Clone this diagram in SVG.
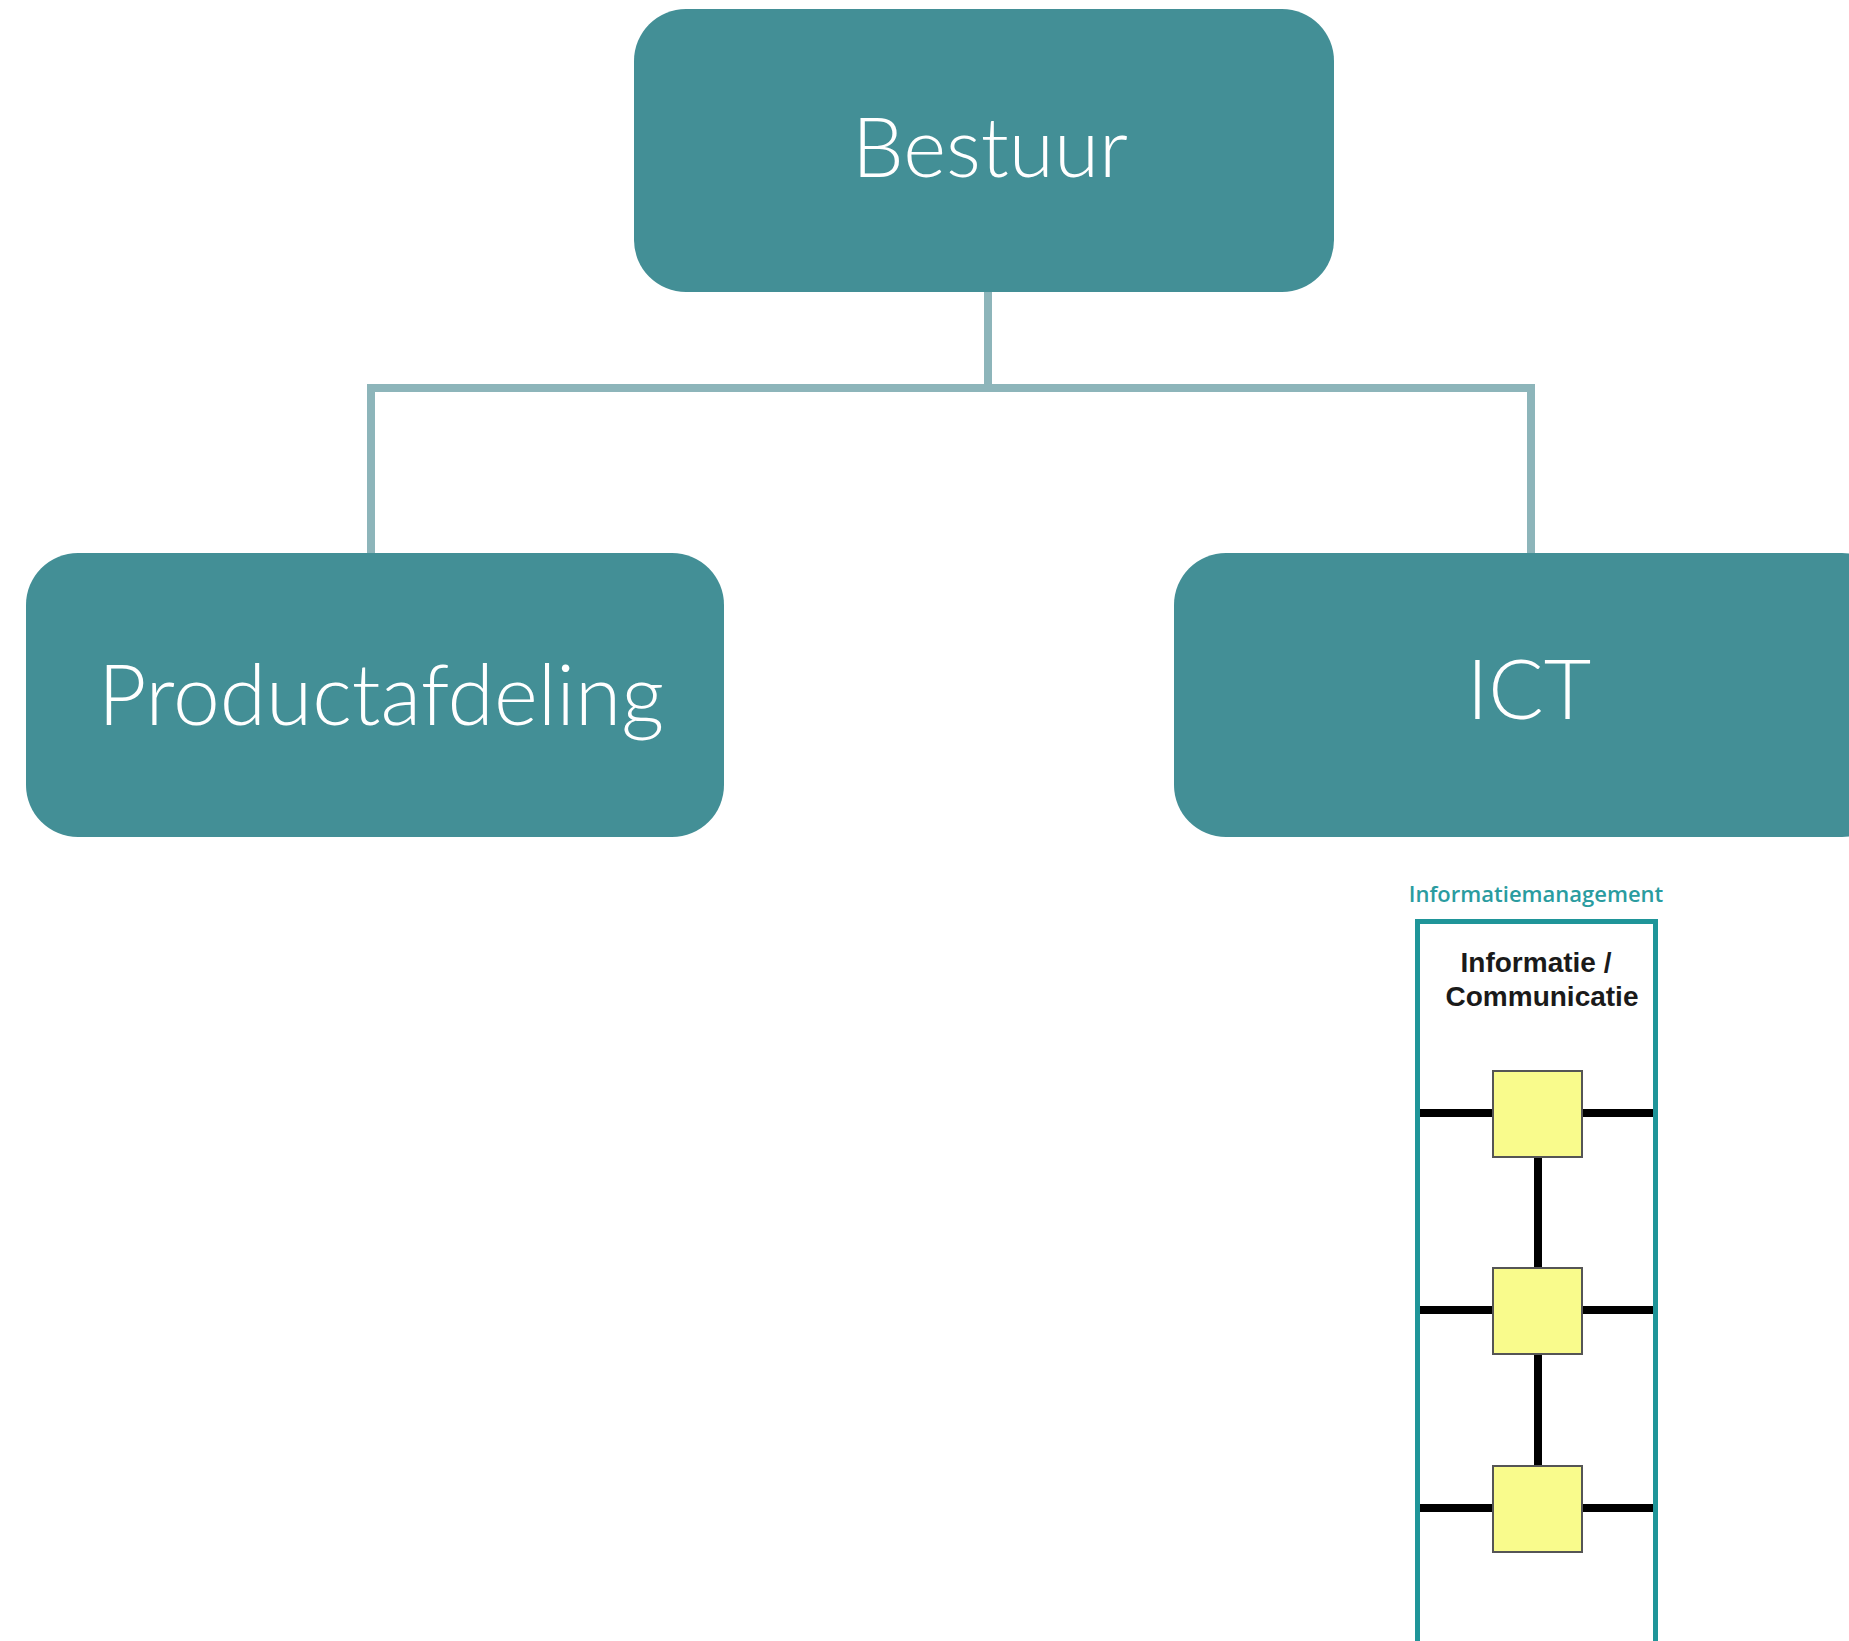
<svg xmlns="http://www.w3.org/2000/svg" width="1849" height="1641" viewBox="0 0 1849 1641">
<style>
.box{fill:#438f96}
.lbl{fill:#ffffff;font-family:Lato,"Open Sans","Noto Sans",sans-serif;font-weight:300;font-size:82px;text-anchor:middle}
.conn{stroke:#8db5ba;stroke-width:8;fill:none}
.bk{stroke:#000;stroke-width:8;fill:none}
.sq{fill:#f9fb8c;stroke:#555;stroke-width:2}
.bt{font-family:"Liberation Sans",Arial,sans-serif;font-weight:bold;font-size:28px;fill:#1a1a1a;text-anchor:middle}
</style>
<rect width="1849" height="1641" fill="#ffffff"/>
<g id="connectors">
<line class="conn" x1="988" y1="292" x2="988" y2="384"/>
<line class="conn" x1="367" y1="388" x2="1535" y2="388"/>
<line class="conn" x1="371" y1="384" x2="371" y2="554"/>
<line class="conn" x1="1531" y1="384" x2="1531" y2="554"/>
</g>
<g id="bestuur">
<rect class="box" x="634" y="9" width="700" height="283" rx="52"/>
<text class="lbl" x="990" y="177">Bestuur</text>
</g>
<g id="productafdeling">
<rect class="box" x="26" y="553" width="698" height="284" rx="52"/>
<text class="lbl" x="381" y="725" style="font-size:84px">Productafdeling</text>
</g>
<g id="ict">
<rect class="box" x="1174" y="553" width="720" height="284" rx="52"/>
<text class="lbl" x="1529" y="719">ICT</text>
</g>
<g id="informatiemanagement">
<text x="1536" y="902" font-family="'Open Sans','Noto Sans',sans-serif" font-weight="600" font-size="22" fill="#2a9ca0" text-anchor="middle">Informatiemanagement</text>
<rect x="1417.5" y="921.5" width="238" height="730" fill="none" stroke="#1f9599" stroke-width="5"/>
<text class="bt" x="1536" y="972">Informatie /</text>
<text class="bt" x="1542" y="1006">Communicatie</text>
<g id="ladder">
<line class="bk" x1="1420" y1="1113" x2="1653" y2="1113"/>
<line class="bk" x1="1420" y1="1310" x2="1653" y2="1310"/>
<line class="bk" x1="1420" y1="1508" x2="1653" y2="1508"/>
<line class="bk" x1="1538" y1="1150" x2="1538" y2="1470"/>
<rect class="sq" x="1493" y="1071" width="89" height="86"/>
<rect class="sq" x="1493" y="1268" width="89" height="86"/>
<rect class="sq" x="1493" y="1466" width="89" height="86"/>
</g>
</g>
</svg>
